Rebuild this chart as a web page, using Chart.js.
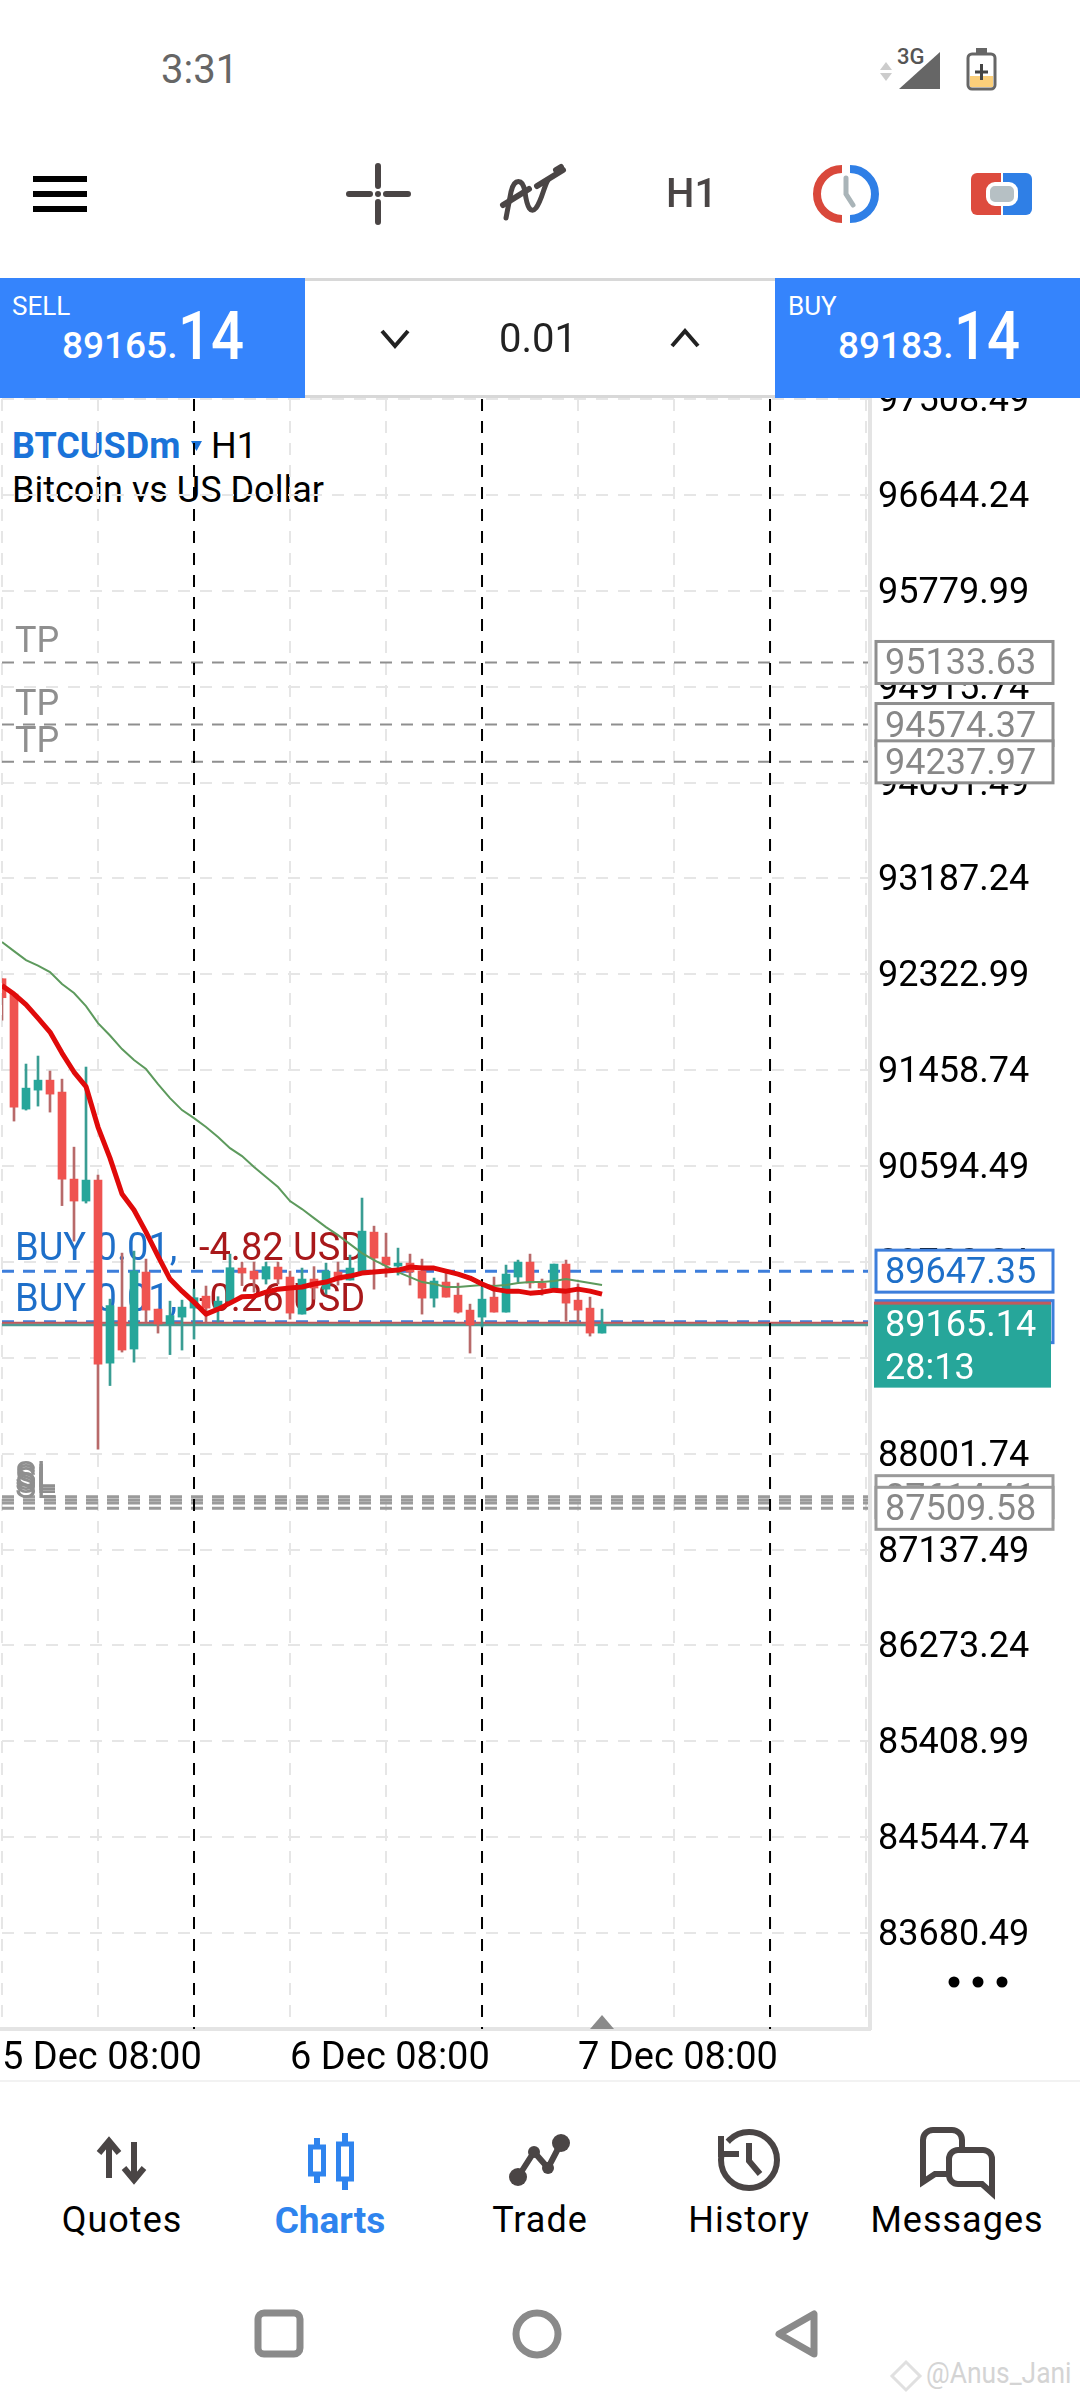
<!DOCTYPE html>
<html lang="en">
<head>
  <meta charset="UTF-8" />
  <title>BTCUSDm H1</title>
  <script src="https://cdn.jsdelivr.net/npm/chart.js"></script>
  <style>
    html, body { margin: 0; padding: 0; background: #fff; }
    body { position: relative; width: 1080px; height: 2400px; overflow: hidden; font-family: Roboto, sans-serif; color: #000; }
    canvas { position: absolute; left: 0; top: 0; z-index: 1; }
    .t { position: absolute; white-space: nowrap; line-height: 1; }
    .ui { position: absolute; z-index: 2; }
    .under { z-index: 0; }
    .over { z-index: 3; }
    .panel { position: absolute; top: 278px; height: 120px; background: #3584fc; color: #fff; z-index: 3; }
    .nav { position: absolute; top: 2202px; font-size: 36px; letter-spacing: 1px; transform: translateX(-50%); z-index: 3; line-height: 1; }
    svg { position: absolute; overflow: visible; }
  </style>
</head>
<body>
  <!-- chart title sits under the canvas, the session lines cross it -->
  <div class="t under" style="left:12px;top:428px;font-size:36px;font-weight:700;color:#1a73d9">BTCUSDm</div>
  <div class="t under" style="left:211px;top:428px;font-size:36px">H1</div>
  <div class="t under" style="left:12px;top:472px;font-size:36px">Bitcoin vs US Dollar</div>
  <svg class="under" style="left:0;top:0;width:1px;height:1px"><path d="M191 441h11l-5.500 10z" fill="#1a73d9"/></svg>

  <canvas id="chart" width="1080" height="2400"></canvas>

  <!-- Header -->
  <div class="ui over" style="left:0;top:0;width:1080px;height:278px;background:#fff"></div>
  <div class="ui over" style="left:305px;top:278px;width:470px;height:114px;background:#fff;border-top:3px solid #d8d8d8;border-bottom:3px solid #d8d8d8"></div>
  <div class="t over" style="left:161px;top:50px;font-size:40px;color:#666">3:31</div>
  <div class="t over" style="left:897px;top:46px;font-size:22px;font-weight:500;color:#555">3G</div>
  <svg class="over" style="left:0;top:0;width:1px;height:1px">
    <path d="M940 52v37h-41z" fill="#666"/>
    <path d="M886 62l-6 8h12zM886 81l-6-8h12z" fill="#ccc"/>
    <rect x="968" y="54" width="27" height="35" rx="4" fill="#fff" stroke="#666" stroke-width="3"/>
    <rect x="976" y="48" width="11" height="6" fill="#666"/>
    <rect x="970" y="76" width="23" height="11" fill="#fbcf7a"/>
    <path d="M981.500 64v16M975 72h13" stroke="#444" stroke-width="3"/>
    <path d="M33 179h54M33 194h54M33 209h54" stroke="#000" stroke-width="6"/>
    <path d="M378 166v20M378 202v20M349 194h21M386 194h22" stroke="#4a4545" stroke-width="6" stroke-linecap="round"/>
    <circle cx="378" cy="194" r="3" fill="#4a4545"/>
    <path d="M506 218l5-26c3-14 12-14 14 0 2 16 6 22 11 16 6-8 8-22 12-28" fill="none" stroke="#4a4545" stroke-width="5" stroke-linecap="round"/>
    <path d="M503 205l26-16M537 186l26-16M556 170l5-3" fill="none" stroke="#4a4545" stroke-width="6" stroke-linecap="round"/>
    <path d="M842 169a25 25 0 0 0 0 50" fill="none" stroke="#d9483b" stroke-width="8"/>
    <path d="M850 169a25 25 0 0 1 0 50" fill="none" stroke="#2f7fe6" stroke-width="8"/>
    <path d="M846 178v16l7 11" fill="none" stroke="#a9b4b8" stroke-width="5" stroke-linecap="round"/>
    <path d="M1001 173h-24a6 6 0 0 0-6 6v30a6 6 0 0 0 6 6h24z" fill="#dd4b3e"/>
    <path d="M1003 173h23a6 6 0 0 1 6 6v30a6 6 0 0 1-6 6h-23z" fill="#2f7fe6"/>
    <rect x="988" y="184" width="28" height="20" rx="7" fill="#b6c0c4" stroke="#fff" stroke-width="4"/>
    <path d="M382 331l13 15 13-15M672 346l13-15 13 15" fill="none" stroke="#222" stroke-width="4"/>
  </svg>
  <div class="t over" style="left:666px;top:174px;font-size:40px;font-weight:500;color:#4a4545">H1</div>
  <div class="t over" style="left:499px;top:319px;font-size:40px;color:#222">0.01</div>

  <div class="panel" style="left:0;width:305px">
    <div class="t" style="left:12px;top:15px;font-size:26px">SELL</div>
    <div class="t" style="left:62px;top:49px;font-size:37px;font-weight:500">89165.</div>
    <div class="t" style="left:178px;top:26px;font-size:66px;font-weight:500;transform:scaleX(.88);transform-origin:left">14</div>
  </div>
  <div class="panel" style="left:775px;width:305px">
    <div class="t" style="left:13px;top:15px;font-size:26px">BUY</div>
    <div class="t" style="left:63px;top:49px;font-size:37px;font-weight:500">89183.</div>
    <div class="t" style="left:179px;top:26px;font-size:66px;font-weight:500;transform:scaleX(.88);transform-origin:left">14</div>
  </div>

  <!-- Bottom nav -->
  <div class="ui over" style="left:0;top:2080px;width:1080px;height:320px;background:#fff;border-top:2px solid #f2f2f2"></div>
  <svg class="over" style="left:0;top:0;width:1px;height:1px">
    <g fill="none" stroke="#4a4545" stroke-width="6">
      <path d="M109 2178v-36M99 2153l10-12 10 12"/>
      <path d="M134 2142v36M124 2168l10 12 10-12"/>
      <path d="M518 2177l16-25 14 16 13-25"/>
      <circle cx="749" cy="2160" r="28"/>
      <path d="M749 2143v18l11 13"/>
      <path d="M962 2150v-10a10 10 0 0 0-10-10h-19a10 10 0 0 0-10 10v42l12-8h16"/>
      <path d="M958 2150h25a9 9 0 0 1 9 9v34l-10-9h-24a9 9 0 0 1-9-9v-16a9 9 0 0 1 9-9z"/>
    </g>
    <path d="M720 2134v20h20z" fill="#fff"/>
    <path d="M721 2136v18h18" fill="none" stroke="#4a4545" stroke-width="6"/>
    <g fill="#4a4545">
      <circle cx="518" cy="2177" r="9"/><circle cx="534" cy="2152" r="6"/><circle cx="548" cy="2168" r="6"/><circle cx="561" cy="2143" r="9"/>
    </g>
    <g stroke="#2f84ee" fill="none" stroke-width="5">
      <path d="M317 2138v8M317 2175v8M345 2133v10M345 2180v10" stroke-width="6"/>
      <rect x="310.500" y="2147" width="13" height="27"/>
      <rect x="338.500" y="2144" width="13" height="35"/>
    </g>
    <g fill="none" stroke="#8a8a8a" stroke-width="7" stroke-linejoin="round">
      <rect x="258" y="2313" width="42" height="41" rx="6"/>
      <circle cx="537" cy="2334" r="21"/>
      <path d="M814 2314v40l-35-20z"/>
    </g>
    <path d="M906 2362l14 14-14 14-14-14z" fill="none" stroke="#e0e0e0" stroke-width="3"/>
  </svg>
  <div class="nav" style="left:122px">Quotes</div>
  <div class="nav" style="left:330px;font-size:37px;font-weight:700;color:#2f84ee;letter-spacing:0">Charts</div>
  <div class="nav" style="left:540px">Trade</div>
  <div class="nav" style="left:749px">History</div>
  <div class="nav" style="left:957px">Messages</div>
  <div class="t over" style="left:926px;top:2358px;font-size:30px;color:#d4d4d4;transform:scaleX(.88);transform-origin:left">@Anus_Jani</div>

  <script>
    const candleOpen = [92283, 92145, 91108, 91279, 91369, 91261, 90477, 90279, 90468, 88818, 89323, 88945, 89639, 89305, 89170, 89233, 89314,
      89422, 89314, 89377, 89675, 89648, 89576, 89684, 89594, 89260, 89576, 89485, 89639, 89567, 89639, 89999, 89774, 89693, 89720, 89648,
      89404, 89549, 89431, 89296, 89233, 89413, 89278, 89594, 89729, 89540, 89495, 89711, 89386, 89314, 89089];
    const candleHigh = [92283, 92145, 91514, 91586, 91451, 91378, 90765, 91487, 90513, 89395, 89810, 89828, 89756, 89305, 89377, 89386, 89485,
      89513, 89417, 89801, 89729, 89729, 89729, 89729, 89648, 89675, 89688, 89720, 89729, 89792, 90306, 90053, 89990, 89855, 89801, 89756,
      89585, 89630, 89540, 89350, 89504, 89594, 89702, 89747, 89801, 89576, 89711, 89747, 89531, 89413, 89305];
    const candleLow = [91910, 91000, 91099, 91135, 91081, 90238, 89918, 90261, 88043, 88616, 88918, 88827, 89188, 89089, 88895, 88936, 89035,
      89188, 89188, 89359, 89517, 89458, 89531, 89531, 89215, 89260, 89395, 89440, 89522, 89567, 89639, 89485, 89594, 89612, 89522, 89260,
      89323, 89413, 89269, 88909, 89143, 89278, 89278, 89549, 89495, 89431, 89495, 89197, 89179, 89062, 89089];
    const candleClose = [92112, 91126, 91297, 91369, 91243, 90477, 90279, 90468, 88809, 89337, 88936, 89648, 89296, 89170, 89247, 89323, 89408,
      89314, 89377, 89678, 89630, 89576, 89688, 89576, 89269, 89576, 89495, 89648, 89567, 89675, 90008, 89765, 89702, 89720, 89639, 89404,
      89558, 89413, 89278, 89161, 89395, 89278, 89621, 89729, 89540, 89495, 89711, 89359, 89296, 89089, 89165.14];
    const fastMA = [92221, 92145, 92050, 91928, 91802, 91613, 91442, 91311, 90946, 90666, 90342, 90198, 89999, 89783, 89576, 89467, 89368,
      89260, 89305, 89359, 89417, 89422, 89458, 89485, 89495, 89504, 89531, 89549, 89585, 89603, 89630, 89639, 89648, 89657, 89684, 89675,
      89675, 89648, 89621, 89585, 89531, 89485, 89467, 89467, 89449, 89458, 89476, 89467, 89485, 89467, 89440];
    const slowMA = [92613, 92532, 92451, 92402, 92343, 92235, 92154, 92036, 91883, 91771, 91649, 91550, 91469, 91333, 91207, 91099, 91027,
      90946, 90856, 90756, 90684, 90585, 90495, 90405, 90279, 90207, 90125, 90044, 89972, 89891, 89810, 89747, 89693, 89639, 89594, 89549,
      89531, 89504, 89504, 89513, 89522, 89513, 89522, 89540, 89549, 89549, 89558, 89576, 89558, 89540, 89522];

    const yTickValues = [97508.49, 96644.24, 95779.99, 94915.74, 94051.49, 93187.24, 92322.99, 91458.74, 90594.49, 89730.24, 88865.99,
      88001.74, 87137.49, 86273.24, 85408.99, 84544.74, 83680.49, 82816.24];
    const xTickBars = [0, 24, 48];
    const xTickLabels = ['5 Dec 08:00', '6 Dec 08:00', '7 Dec 08:00'];
    const daySeparators = [16, 40, 64];
    const barsVisible = 72.33;

    const tpLevels = [95133.63, 94574.37, 94237.97];
    const slLevels = [87614.41, 87585, 87558, 87509.58];
    const buyLevels = [89647.35, 89192];
    const buyProfit = ['-4.82 USD', '-0.26 USD'];
    const askPrice = 89183.14;
    const bidPrice = 89165.14;
    const countdown = '28:13';

    const RED = '#ef5350', TEAL = '#26a69a', GRAY = '#8f8f8f', BLUE = '#3d7edb';
    const FONT = '36px Roboto';

    function level(ctx, area, y, color, width, dash) {
      ctx.save();
      ctx.strokeStyle = color;
      ctx.lineWidth = width;
      ctx.setLineDash(dash);
      ctx.beginPath();
      ctx.moveTo(area.left, y);
      ctx.lineTo(area.right - 2, y);
      ctx.stroke();
      ctx.restore();
    }

    function tag(ctx, y, text, color, textColor) {
      ctx.save();
      ctx.fillStyle = '#fff';
      ctx.strokeStyle = color;
      ctx.lineWidth = 3;
      ctx.fillRect(876, y - 21, 177, 42);
      ctx.strokeRect(876, y - 21, 177, 42);
      ctx.fillStyle = textColor;
      ctx.font = FONT;
      ctx.textBaseline = 'middle';
      ctx.fillText(text, 885, y + 3);
      ctx.restore();
    }

    // price levels and their labels go under the candles
    const levelsPlugin = {
      id: 'levels',
      beforeDatasetsDraw(chart) {
        const { ctx, chartArea: area, scales: { x, y } } = chart;
        ctx.save();
        ctx.font = FONT;
        tpLevels.forEach(v => {
          const py = y.getPixelForValue(v);
          level(ctx, area, py, GRAY, 2, [12, 9]);
          ctx.fillStyle = GRAY;
          ctx.fillText('TP', 15, py - 10);
        });
        slLevels.forEach(v => {
          const py = y.getPixelForValue(v);
          level(ctx, area, py, '#9a9a9a', 3, [12, 9]);
          ctx.fillStyle = GRAY;
          ctx.fillText('SL', 15, py - 10);
        });
        ctx.font = '38px Roboto';
        buyLevels.forEach((v, i) => {
          const py = y.getPixelForValue(v);
          level(ctx, area, py, BLUE, 3, [12, 9]);
          ctx.fillStyle = '#1e6fc9';
          ctx.fillText('BUY 0.01,', 15, py - 11);
          ctx.fillStyle = '#a8181a';
          ctx.fillText(buyProfit[i], 199, py - 11);
        });
        level(ctx, area, y.getPixelForValue(bidPrice), '#4f9a93', 3, []);
        level(ctx, area, y.getPixelForValue(askPrice), '#c2595c', 2, []);
        ctx.restore();

        daySeparators.forEach(b => {
          const px = x.getPixelForValue(b);
          ctx.save();
          ctx.strokeStyle = '#000';
          ctx.lineWidth = 2;
          ctx.setLineDash([12, 10]);
          ctx.beginPath();
          ctx.moveTo(px, area.top);
          ctx.lineTo(px, area.bottom);
          ctx.stroke();
          ctx.restore();
        });
      },
      afterDraw(chart) {
        const { ctx, chartArea: area, scales: { x, y } } = chart;
        tpLevels.forEach(v => tag(ctx, y.getPixelForValue(v), v.toFixed(2), GRAY, '#888'));
        [slLevels[0], slLevels[3]].forEach(v => tag(ctx, y.getPixelForValue(v), v.toFixed(2), '#9a9a9a', '#888'));
        tag(ctx, y.getPixelForValue(buyLevels[0]), buyLevels[0].toFixed(2), BLUE, '#1e6fc9');
        tag(ctx, y.getPixelForValue(buyLevels[1]), '', BLUE, '#1e6fc9');

        // live price box
        const by = y.getPixelForValue(bidPrice);
        ctx.save();
        ctx.fillStyle = TEAL;
        ctx.fillRect(874, by - 22, 177, 85);
        ctx.fillStyle = '#c2595c';
        ctx.fillRect(874, by - 23, 177, 3);
        ctx.fillStyle = '#fff';
        ctx.font = FONT;
        ctx.textBaseline = 'middle';
        ctx.fillText(bidPrice.toFixed(2), 885, by + 2);
        ctx.fillText(countdown, 885, by + 45);

        // marker for the last bar
        const mx = x.getPixelForValue(candleOpen.length - 1);
        ctx.fillStyle = '#8a8a8a';
        ctx.beginPath();
        ctx.moveTo(mx, area.bottom - 14);
        ctx.lineTo(mx + 12, area.bottom);
        ctx.lineTo(mx - 12, area.bottom);
        ctx.fill();

        // three dots of the price scale
        ctx.fillStyle = '#000';
        [954, 978, 1002].forEach(cx => {
          ctx.beginPath();
          ctx.arc(cx, 1982, 5.500, 0, Math.PI * 2);
          ctx.fill();
        });
        ctx.restore();
      }
    };

    const isUp = i => candleClose[i] >= candleOpen[i];

    new Chart(document.getElementById('chart'), {
      data: {
        datasets: [
          {
            type: 'line',
            data: fastMA.map((v, i) => ({ x: i, y: v })),
            borderColor: '#e00a0a',
            borderWidth: 5,
            pointRadius: 0,
            borderJoinStyle: 'round',
            order: 1
          },
          {
            type: 'line',
            data: slowMA.map((v, i) => ({ x: i, y: v })),
            borderColor: '#5d9a5d',
            borderWidth: 2,
            pointRadius: 0,
            order: 2
          },
          {
            type: 'bar',
            data: candleOpen.map((o, i) => ({ x: i, y: [o, candleClose[i]] })),
            backgroundColor: ctx => isUp(ctx.dataIndex) ? TEAL : RED,
            barThickness: 8,
            grouped: false,
            order: 3
          },
          {
            type: 'bar',
            data: candleLow.map((l, i) => ({ x: i, y: [l, candleHigh[i]] })),
            backgroundColor: ctx => isUp(ctx.dataIndex) ? '#3a9d93' : '#b86a6a',
            barThickness: 2,
            grouped: false,
            order: 4
          }
        ]
      },
      options: {
        responsive: false,
        animation: false,
        devicePixelRatio: 1,
        layout: { padding: { left: 2, top: 399, right: 0, bottom: 311 } },
        plugins: { legend: { display: false }, tooltip: { enabled: false } },
        scales: {
          x: {
            type: 'linear',
            offset: false,
            min: 0,
            max: barsVisible,
            afterFit(scale) {
              scale.height = 60;
              // tick padding would otherwise push the plot away from the left edge
              scale.paddingLeft = 0;
              scale.paddingRight = 0;
            },
            grid: { offset: false, color: '#e6e6e6', lineWidth: 2, drawTicks: false },
            border: { color: '#e4e4e4', width: 4, dash: [12, 10] },
            ticks: {
              stepSize: 8,
              includeBounds: false,
              autoSkip: false,
              maxRotation: 0,
              align: 'start',
              padding: 8,
              color: '#000',
              font: { family: 'Roboto', size: 38 },
              callback(value) {
                const k = xTickBars.indexOf(value);
                return k >= 0 ? xTickLabels[k] : '';
              }
            }
          },
          y: {
            position: 'right',
            min: yTickValues[yTickValues.length - 1],
            max: yTickValues[0],
            afterFit(scale) { scale.width = 210; },
            afterBuildTicks(scale) { scale.ticks = yTickValues.map(v => ({ value: v })); },
            grid: { color: '#e6e6e6', lineWidth: 2, drawTicks: false },
            border: { color: '#e4e4e4', width: 4, dash: [12, 10] },
            ticks: {
              autoSkip: false,
              padding: 8,
              labelOffset: 3,
              color: '#000',
              font: { family: 'Roboto', size: 36 },
              callback(value) {
                return value === yTickValues[yTickValues.length - 1] ? '' : value.toFixed(2);
              }
            }
          }
        }
      },
      plugins: [levelsPlugin]
    });
  </script>
</body>
</html>
